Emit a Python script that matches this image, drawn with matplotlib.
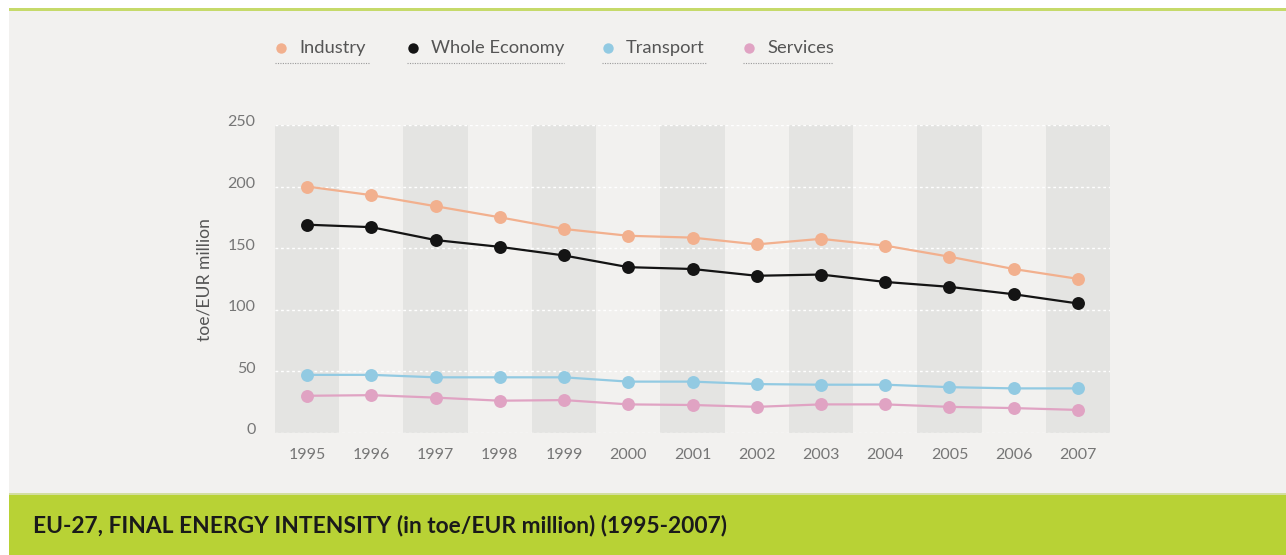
import matplotlib.pyplot as plt
from matplotlib.patches import Rectangle
from matplotlib.lines import Line2D
from matplotlib.transforms import ScaledTranslation

plt.rcParams['font.family'] = ['Lato', 'DejaVu Sans']

years = list(range(1995, 2008))
industry = [200, 193, 184, 175, 165.5, 160, 158.5, 153, 157.5, 152, 143, 133, 125]
whole_economy = [169, 167, 156.5, 151, 144, 134.5, 133, 127.5, 128.5, 122.5, 118.5, 112.5, 105]
transport = [47, 47, 45, 45, 45, 41.5, 41.5, 39.5, 39, 39, 37, 36, 36]
services = [30, 30.5, 28.5, 26, 26.5, 23, 22.5, 21, 23, 23, 21, 20, 18.5]

series = [
    ('Industry', industry, '#f2b08e'),
    ('Whole Economy', whole_economy, '#141414'),
    ('Transport', transport, '#92cae2'),
    ('Services', services, '#e0a3c3'),
]

W, H = 1286, 555
fig = plt.figure(figsize=(W / 100, H / 100), dpi=100)
fig.patch.set_facecolor('white')

def box(x, y, w, h, color):
    # pixel box (top-left origin) -> rectangle in figure fraction, behind the axes
    fig.patches.append(Rectangle((x / W, 1 - (y + h) / H), w / W, h / H,
                                 transform=fig.transFigure, facecolor=color,
                                 edgecolor='none', zorder=-5))

# panel background, top rule and bottom title band
box(9, 8, W - 9, H - 8, '#f2f1ef')
box(9, 8, W - 9, 2.5, '#c6da6a')
box(9, 494, W - 9, 61, '#b8d235')
box(9, 493, W - 9, 1.5, '#d3dea0')

fig.text(33 / W, 1 - 525 / H, 'EU-27, FINAL ENERGY INTENSITY (in toe/EUR million) (1995-2007)',
         fontsize=16.4, fontweight='bold', color='#1a1a1a', va='center', ha='left')

ax = fig.add_axes([275 / W, (H - 432.7) / H, (1110 - 275) / W, (432.7 - 125) / H])
ax.patch.set_alpha(0)
ax.set_xlim(1994.5, 2007.5)
ax.set_ylim(0, 250)

for i, yr in enumerate(years):
    if i % 2 == 0:
        ax.axvspan(yr - 0.5, yr + 0.5, color='#e4e4e2', lw=0, zorder=0)

for v in range(0, 251, 50):
    ax.axhline(v, color='white', lw=1, ls=(0, (2, 2)), zorder=1)

for name, vals, col in series:
    ax.plot(years, vals, color=col, lw=1.6, marker='o', markersize=9.3,
            markeredgewidth=0, zorder=3)

for s in ax.spines.values():
    s.set_visible(False)
ax.set_xticks(years)
ax.set_yticks(range(0, 251, 50))
ax.tick_params(length=0, colors='#767676', labelsize=11.5)
ax.tick_params(axis='y', pad=14)
ax.tick_params(axis='x', pad=11)
shift = ScaledTranslation(0, 4 / 100, fig.dpi_scale_trans)
for lbl in ax.get_yticklabels():
    lbl.set_transform(lbl.get_transform() + shift)

fig.text(205 / W, 1 - 280 / H, 'toe/EUR million', rotation=90, fontsize=12.6,
         color='#555555', ha='center', va='center')

# legend with dotted underlines
leg_x = [281, 413, 608, 749]
leg_end = [370, 564, 706, 833]
for (name, vals, col), x0, x1 in zip(series, leg_x, leg_end):
    fig.add_artist(Line2D([x0 / W], [1 - 48 / H], marker='o', markersize=7.5, color=col,
                          markeredgewidth=0, transform=fig.transFigure))
    fig.text((x0 + 18) / W, 1 - 48 / H, name, fontsize=13.2, color='#555555',
             ha='left', va='center')
    fig.add_artist(Line2D([(x0 - 6) / W, x1 / W], [1 - 63 / H] * 2, color='#9a9a9a',
                          lw=0.8, ls=(0, (1, 1.2)), transform=fig.transFigure))

fig.savefig('out.png', dpi=100, facecolor=fig.get_facecolor())
